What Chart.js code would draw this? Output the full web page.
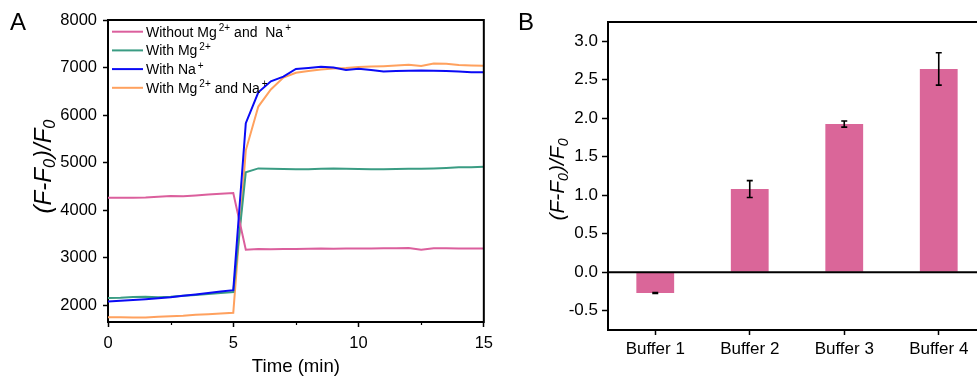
<!DOCTYPE html>
<html><head><meta charset="utf-8">
<script src="https://cdn.jsdelivr.net/npm/chart.js@4/dist/chart.umd.min.js"></script>
<style>
html,body{margin:0;padding:0;background:#fff;overflow:hidden;width:977px;height:379px;position:relative;}
#wrapA{position:absolute;left:0;top:0;width:500px;height:379px;}
#wrapB{position:absolute;left:520px;top:0;width:480px;height:379px;}
.panel{position:absolute;font-family:"Liberation Sans",Arial,sans-serif;font-size:24px;line-height:1;color:#000;}
</style></head>
<body>
<div id="wrapA"><canvas id="chartA" width="500" height="379"></canvas></div>
<div id="wrapB"><canvas id="chartB" width="480" height="379"></canvas></div>
<div class="panel" style="left:10px;top:10px;">A</div>
<div class="panel" style="left:518px;top:10px;">B</div>
<script>
// ---------- Panel A data ----------
const times = [0,0.5,1,1.5,2,2.5,3,3.5,4,4.5,5,5.5,6,6.5,7,7.5,8,8.5,9,9.5,10,10.5,11,11.5,12,12.5,13,13.5,14,14.5,15];
const withoutMgNa = [4260,4260,4265,4270,4285,4300,4295,4310,4330,4345,4360,3170,3185,3180,3185,3185,3190,3195,3190,3195,3195,3195,3200,3200,3205,3170,3200,3200,3195,3195,3195];
const withMg = [2155,2160,2175,2180,2170,2180,2200,2220,2240,2260,2280,4800,4880,4870,4865,4860,4860,4870,4875,4870,4865,4860,4860,4865,4870,4870,4880,4890,4905,4905,4915];
const withNa = [2080,2095,2110,2130,2150,2170,2200,2230,2260,2290,2320,5830,6480,6710,6810,6970,6990,7015,7000,6950,6975,6950,6915,6930,6935,6940,6935,6930,6915,6900,6900];
const withMgNa = [1750,1750,1745,1745,1760,1770,1780,1800,1815,1830,1845,5260,6180,6540,6790,6890,6930,6960,6980,6990,7010,7020,7030,7045,7060,7035,7085,7080,7055,7045,7040];
const seriesNames = ['Without Mg²⁺ and Na⁺','With Mg²⁺','With Na⁺','With Mg²⁺ and Na⁺'];
const seriesColors = ['#DB5F9D','#3A9C83','#0A0AF5','#FFA15E'];
// legend text pieces: [text, isSuperscript]
const legendParts = [
  [['Without Mg',0],['2+',1],[' and  Na',0],['+',1]],
  [['With Mg',0],['2+',1]],
  [['With Na',0],['+',1]],
  [['With Mg',0],['2+',1],[' and Na',0],['+',1]]
];
const timeTicksMajor = [0, 5, 10, 15];
const timeTicksMinor = [2.5, 7.5, 12.5];
const yTicksA = [2000, 3000, 4000, 5000, 6000, 7000, 8000];
const xTitleA = 'Time (min)';

// ---------- Panel B data ----------
const buffers = ['Buffer 1','Buffer 2','Buffer 3','Buffer 4'];
const ratio = [-0.27, 1.08, 1.925, 2.64];
const ratioErr = [0.005, 0.11, 0.04, 0.21];
const yTicksB = [-0.5, 0, 0.5, 1.0, 1.5, 2.0, 2.5, 3.0];
const barColor = '#DA6699';

// y title pieces: [text, isSubscript]
const yTitleParts = [['(F-F',0],['0',1],[')/F',0],['0',1]];

const FONT = '"Liberation Sans", Arial, sans-serif';
Chart.defaults.font.family = FONT;
Chart.defaults.color = '#000';

function drawYTitle(ctx, cx, cy, size) {
  ctx.save();
  ctx.translate(cx, cy);
  ctx.rotate(-Math.PI/2);
  ctx.fillStyle = '#000';
  ctx.textBaseline = 'alphabetic';
  ctx.textAlign = 'left';
  const subSize = size*0.68;
  let total = 0;
  const widths = yTitleParts.map(p => {
    ctx.font = 'italic ' + (p[1]?subSize:size) + 'px ' + FONT;
    const w = ctx.measureText(p[0]).width + (p[1]?1:0);
    total += w; return w;
  });
  let x = -total/2;
  const base = size*0.36;
  yTitleParts.forEach((p,i) => {
    ctx.font = 'italic ' + (p[1]?subSize:size) + 'px ' + FONT;
    ctx.fillText(p[0], x, p[1] ? base + size*0.2 : base);
    x += widths[i];
  });
  ctx.restore();
}

function setTicks(values) {
  return function(scale) { scale.ticks = values.map(v => ({value: v})); };
}

// ---------- Chart A ----------
const pluginA = {
  id: 'extrasA',
  afterDraw(chart) {
    const {ctx, chartArea: a, scales} = chart;
    ctx.save();
    ctx.strokeStyle = '#000'; ctx.lineWidth = 2;
    ctx.beginPath();
    ctx.moveTo(a.left-1, a.top); ctx.lineTo(a.right, a.top); ctx.lineTo(a.right, a.bottom+1);
    ctx.stroke();
    ctx.lineWidth = 1.2;
    timeTicksMinor.forEach(v => {
      const px = Math.round(scales.x.getPixelForValue(v)) + 0.5;
      ctx.beginPath(); ctx.moveTo(px, a.bottom); ctx.lineTo(px, a.bottom + 3); ctx.stroke();
    });
    const rowH = 18.7;
    legendParts.forEach((parts, i) => {
      const y = a.top + 11.7 + i*rowH;
      ctx.strokeStyle = seriesColors[i]; ctx.lineWidth = 2;
      ctx.beginPath(); ctx.moveTo(a.left + 4, y); ctx.lineTo(a.left + 35, y); ctx.stroke();
      let x = a.left + 38;
      ctx.fillStyle = '#000'; ctx.textBaseline = 'alphabetic'; ctx.textAlign = 'left';
      parts.forEach(p => {
        if (p[1]) {
          ctx.font = '10px ' + FONT;
          x += 2;
          ctx.fillText(p[0], x, y - 0.5);
          x += ctx.measureText(p[0]).width;
        } else {
          ctx.font = '14px ' + FONT;
          ctx.fillText(p[0], x, y + 5);
          x += ctx.measureText(p[0]).width;
        }
      });
    });
    ctx.restore();
    drawYTitle(ctx, 42, 166, 24);
  }
};

new Chart(document.getElementById('chartA'), {
  type: 'line',
  data: {
    datasets: [withoutMgNa, withMg, withNa, withMgNa].map((vals, i) => ({
      label: seriesNames[i],
      data: times.map((t, j) => ({x: t, y: vals[j]})),
      borderColor: seriesColors[i],
      backgroundColor: seriesColors[i],
      borderWidth: 2,
      pointRadius: 0,
      tension: 0,
      fill: false,
      order: [1,2,0,3][i]
    }))
  },
  options: {
    responsive: false,
    animation: false,
    devicePixelRatio: 1,
    layout: {padding: {left: 0, right: 15, top: 20, bottom: 0}},
    plugins: {legend: {display: false}, tooltip: {enabled: false}},
    scales: {
      x: {
        type: 'linear', min: 0, max: 15,
        ticks: {font: {size: 16.5}, padding: 7, color: '#000', maxRotation: 0, callback: v => String(v)},
        grid: {drawOnChartArea: false, tickLength: 5, tickColor: '#000', tickWidth: 1.5},
        border: {color: '#000', width: 2},
        title: {display: true, text: xTitleA, font: {size: 18.6}, padding: {top: 0, bottom: 1}, color: '#000'},
        afterBuildTicks: setTicks(timeTicksMajor),
        afterFit(s) { s.height = 57; }
      },
      y: {
        type: 'linear', min: 1650, max: 8000,
        ticks: {font: {size: 16.5}, padding: 6, color: '#000', callback: v => String(v)},
        grid: {drawOnChartArea: false, tickLength: 5, tickColor: '#000', tickWidth: 1.5},
        border: {color: '#000', width: 2},
        afterBuildTicks: setTicks(yTicksA),
        afterFit(s) { s.width = 108; }
      }
    }
  },
  plugins: [pluginA]
});

// ---------- Chart B ----------
const pluginB = {
  id: 'extrasB',
  afterDatasetsDraw(chart) {
    const {ctx, scales} = chart;
    const meta = chart.getDatasetMeta(0);
    ctx.save();
    ctx.strokeStyle = '#000'; ctx.lineWidth = 1.6;
    meta.data.forEach((el, i) => {
      const x = el.x;
      const yT = scales.y.getPixelForValue(ratio[i] + ratioErr[i]);
      const yB = scales.y.getPixelForValue(ratio[i] - ratioErr[i]);
      ctx.beginPath();
      ctx.moveTo(x, yT); ctx.lineTo(x, yB);
      ctx.moveTo(x - 3, yT); ctx.lineTo(x + 3, yT);
      ctx.moveTo(x - 3, yB); ctx.lineTo(x + 3, yB);
      ctx.stroke();
    });
    const y0 = scales.y.getPixelForValue(0);
    ctx.lineWidth = 2;
    ctx.beginPath(); ctx.moveTo(chart.chartArea.left, y0); ctx.lineTo(chart.chartArea.right + 20, y0); ctx.stroke();
    ctx.restore();
  },
  afterDraw(chart) {
    const {ctx, chartArea: a} = chart;
    ctx.save();
    ctx.strokeStyle = '#000'; ctx.lineWidth = 2;
    ctx.beginPath(); ctx.moveTo(a.left - 1, a.top); ctx.lineTo(a.right + 20, a.top); ctx.stroke();
    ctx.restore();
    drawYTitle(ctx, 36, 179, 21);
  }
};

new Chart(document.getElementById('chartB'), {
  type: 'bar',
  data: {
    labels: buffers,
    datasets: [{
      label: '(F-F0)/F0',
      data: ratio,
      backgroundColor: barColor,
      borderWidth: 0,
      barPercentage: 0.4,
      categoryPercentage: 1.0
    }]
  },
  options: {
    responsive: false,
    animation: false,
    devicePixelRatio: 1,
    layout: {padding: {left: 0, right: 14, top: 22, bottom: 0}},
    plugins: {legend: {display: false}, tooltip: {enabled: false}},
    scales: {
      x: {
        type: 'category',
        ticks: {font: {size: 17}, padding: 4, color: '#000', maxRotation: 0},
        grid: {offset: false, drawOnChartArea: false, tickLength: 5, tickColor: '#000', tickWidth: 1.5},
        border: {color: '#000', width: 2},
        afterFit(s) { s.height = 49; }
      },
      y: {
        type: 'linear', min: -0.75, max: 3.25,
        ticks: {font: {size: 17}, padding: 4, color: '#000', callback: v => Number(v).toFixed(1)},
        grid: {drawOnChartArea: false, tickLength: 6, tickColor: '#000', tickWidth: 1.5},
        border: {color: '#000', width: 2},
        afterBuildTicks: setTicks(yTicksB),
        afterFit(s) { s.width = 88; }
      }
    }
  },
  plugins: [pluginB]
});
</script>
</body></html>
